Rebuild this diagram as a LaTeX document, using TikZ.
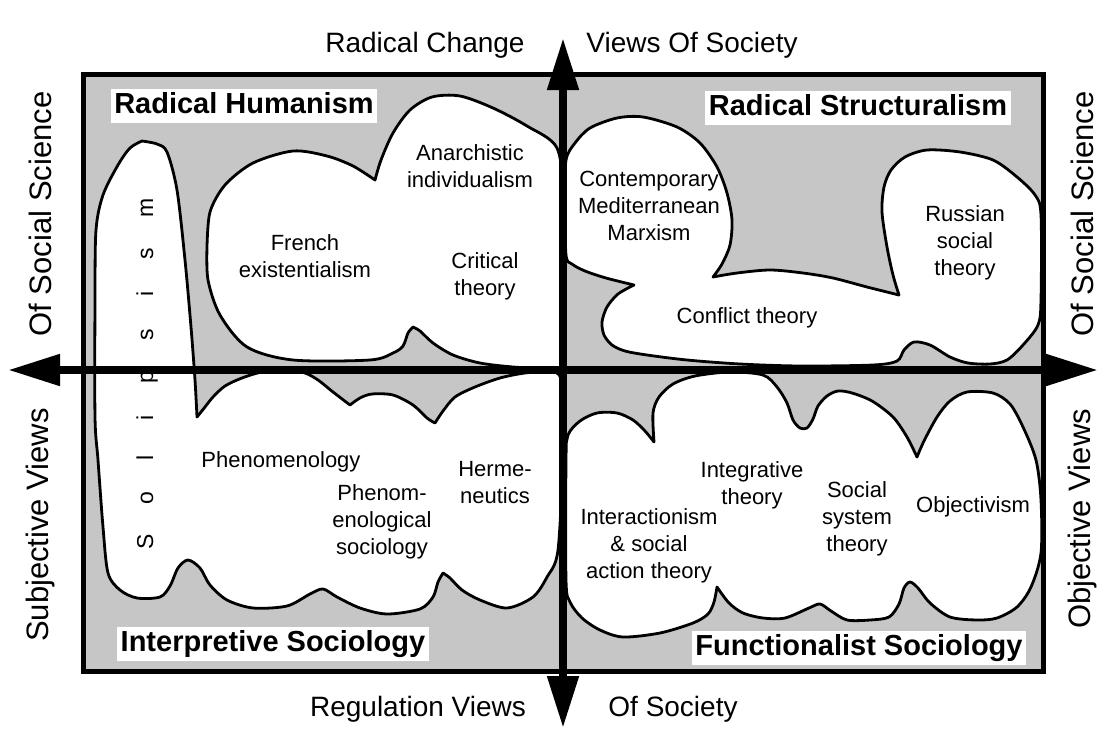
\documentclass[tikz,border=0pt]{standalone}
\usepackage{fontspec}
\setmainfont{Liberation Sans}
\usepackage{tikz}
\usetikzlibrary{arrows.meta}
\definecolor{QuadrantGray}{HTML}{C6C6C6}

\begin{document}
\begin{tikzpicture}[x=1pt,y=-1pt,
    blob/.style={fill=white,draw=black,line width=2.8pt,line join=round},
    axis/.style={line width=8pt,{Triangle[length=52pt,width=30pt]}-{Triangle[length=52pt,width=30pt]}},
    school/.style={align=center,inner sep=0pt,font=\fontsize{22}{27}\selectfont},
    side/.style={inner sep=0pt,font=\fontsize{28}{33}\selectfont},
    title/.style={fill=white,inner sep=3.5pt,text height=21pt,text depth=6pt,font=\fontsize{29}{34}\selectfont\bfseries}]
    \useasboundingbox (0,0) rectangle (1106,734);

    \fill[QuadrantGray] (83,74) rectangle (1043,671);

    \draw[blob] plot[smooth] coordinates {(142,141) (157,144) (167,152) (177,190) (185,260) (191,327) (195,380) (197,417)}
        -- plot[smooth] coordinates {(197,417) (205,407) (213,397) (225,386) (242,378) (262,372) (287,370) (305,373) (318,380) (333,392) (350,405)}
        -- plot[smooth] coordinates {(350,405) (360,398) (372,394) (393,395) (413,405) (427,418) (435,423)}
        -- plot[smooth] coordinates {(435,423) (443,411) (455,397) (475,387) (500,378) (525,373) (548,372) (561,380) (563,450) (558,550) (547,577) (533,597) (507,608) (480,600) (462,590) (450,578) (443,573)}
        -- plot[smooth] coordinates {(443,573) (438,582) (433,597) (420,609) (387,614) (360,608) (337,597) (323,589) (310,594) (287,606) (253,608) (227,600) (210,585) (200,568) (188,560) (178,568) (170,586) (160,597) (137,598) (120,590) (108,573) (103,527) (98,460) (95,417) (95,300) (96,230) (103,195) (118,165) (130,148) (142,141)}
        -- cycle;

    \draw[blob] plot[smooth] coordinates {(207,247) (210,212) (225,185) (253,163) (293,151) (327,156) (353,166) (375,180)}
        -- plot[smooth] coordinates {(375,180) (381,160) (393,133) (410,110) (432,97) (460,96) (493,108) (527,126) (557,148) (563,200) (563,300) (561,366) (540,368) (513,367) (480,363) (453,355) (433,343) (420,331) (413,327)}
        -- plot[smooth] coordinates {(413,327) (408,333) (403,346) (393,353) (370,360) (293,360) (247,347) (220,315) (208,280) (207,247)}
        -- cycle;

    \draw[blob] plot[smooth] coordinates {(634,285) (606,278) (585,271) (572,264) (566,255) (565,200) (566,160) (575,143) (590,128) (617,118) (643,117) (677,127) (700,143) (717,167) (727,193) (732,220) (730,245) (722,264) (713,277)}
        -- plot[smooth] coordinates {(713,277) (737,273) (770,270) (803,273) (833,278) (867,287) (899,295)}
        -- plot[smooth] coordinates {(899,295) (893,275) (887,247) (882,212) (884,187) (891,170) (905,157) (927,150) (960,152) (993,160) (1017,177) (1035,195) (1041,215) (1041,300) (1038,325) (1023,345) (1007,360) (990,364) (968,363) (950,357) (930,345) (914,342) (904,350) (897,361) (873,365) (800,366) (740,364) (687,360) (647,355) (625,351) (612,345) (604,335) (602,322) (607,307) (618,294) (634,285)}
        -- cycle;

    \draw[blob] plot[smooth] coordinates {(717,587) (714,602) (708,614) (693,623) (660,633) (623,637) (600,630) (582,618) (570,602) (566,580) (566,460) (568,435) (580,421) (597,413) (617,413) (633,420) (645,431) (654,442)}
        -- plot[smooth] coordinates {(654,442) (653,413) (659,397) (673,384) (695,376) (730,372) (763,375) (777,387) (787,403) (793,420) (800,428) (807,428) (813,419) (818,406) (827,396) (838,391) (852,393) (872,401) (893,417) (907,437) (917,457)}
        -- plot[smooth] coordinates {(917,457) (924,441) (937,417) (950,401) (967,392) (993,393) (1010,404) (1023,427) (1036,460) (1041,500) (1041,553) (1031,587) (1017,607) (997,618) (977,620) (950,617) (930,603) (918,588) (910,582) (904,588) (899,604) (889,617) (870,620) (847,620) (831,611) (820,604) (809,608) (785,618) (763,618) (743,613) (729,603) (717,587)}
        -- cycle;

    \coordinate (W) at (8,370);
    \coordinate (E) at (1098,370);
    \coordinate (N) at (563,38);
    \coordinate (S) at (563,728);
    \draw[axis] (W) -- (E);
    \draw[axis] (N) -- (S);
    \draw[line width=5pt] (83,74) rectangle (1043,671);

    \foreach \ch/\yy [count=\i] in {S/542,o/498,l/458,i/418,p/377,s/335,i/294,s/254,m/208}
        \node[school,rotate=90,anchor=base,font=\fontsize{23}{27}\selectfont] (sol\i) at (153,\yy) {\ch};

    \node[school] (ai) at (470,166) {Anarchistic\\individualism};
    \node[school] (fe) at (305,256) {French\\existentialism};
    \node[school] (ct) at (485,276) {Critical\\theory};
    \node[school] (cmm) at (649,206) {Contemporary\\Mediterranean\\Marxism};
    \node[school] (cf) at (747,318) {Conflict theory};
    \node[school] (rs) at (965,243) {Russian\\social\\theory};
    \node[school] (ph) at (281,462) {Phenomenology};
    \node[school] (ps) at (382,522) {Phenom-\\enological\\sociology};
    \node[school] (hm) at (495,483) {Herme-\\neutics};
    \node[school] (it) at (752,485) {Integrative\\theory};
    \node[school] (ia) at (649,546) {Interactionism\\\& social\\action theory};
    \node[school] (ss) at (857,519) {Social\\system\\theory};
    \node[school] (ob) at (973,507) {Objectivism};

    \node[title] (rh) at (244,106) {Radical Humanism};
    \node[title] (rst) at (858,108) {Radical Structuralism};
    \node[title] (is) at (273,644) {Interpretive Sociology};
    \node[title] (fs) at (859,648) {Functionalist Sociology};

    \node[side,anchor=base] (rc) at (425,52) {Radical Change};
    \node[side,anchor=base] (vs) at (692,52) {Views Of Society};
    \node[side,anchor=base] (rv) at (418,716) {Regulation Views};
    \node[side,anchor=base] (os) at (673,716) {Of Society};
    \node[side,rotate=90,font=\fontsize{31}{36}\selectfont] (ls) at (40,214) {Of Social Science};
    \node[side,rotate=90,font=\fontsize{31}{36}\selectfont] (sv) at (40,525) {Subjective Views};
    \node[side,rotate=90,font=\fontsize{31}{36}\selectfont] (rss) at (1082,214) {Of Social Science};
    \node[side,rotate=90,font=\fontsize{31}{36}\selectfont] (ov) at (1082,519) {Objective Views};
\end{tikzpicture}
\end{document}
